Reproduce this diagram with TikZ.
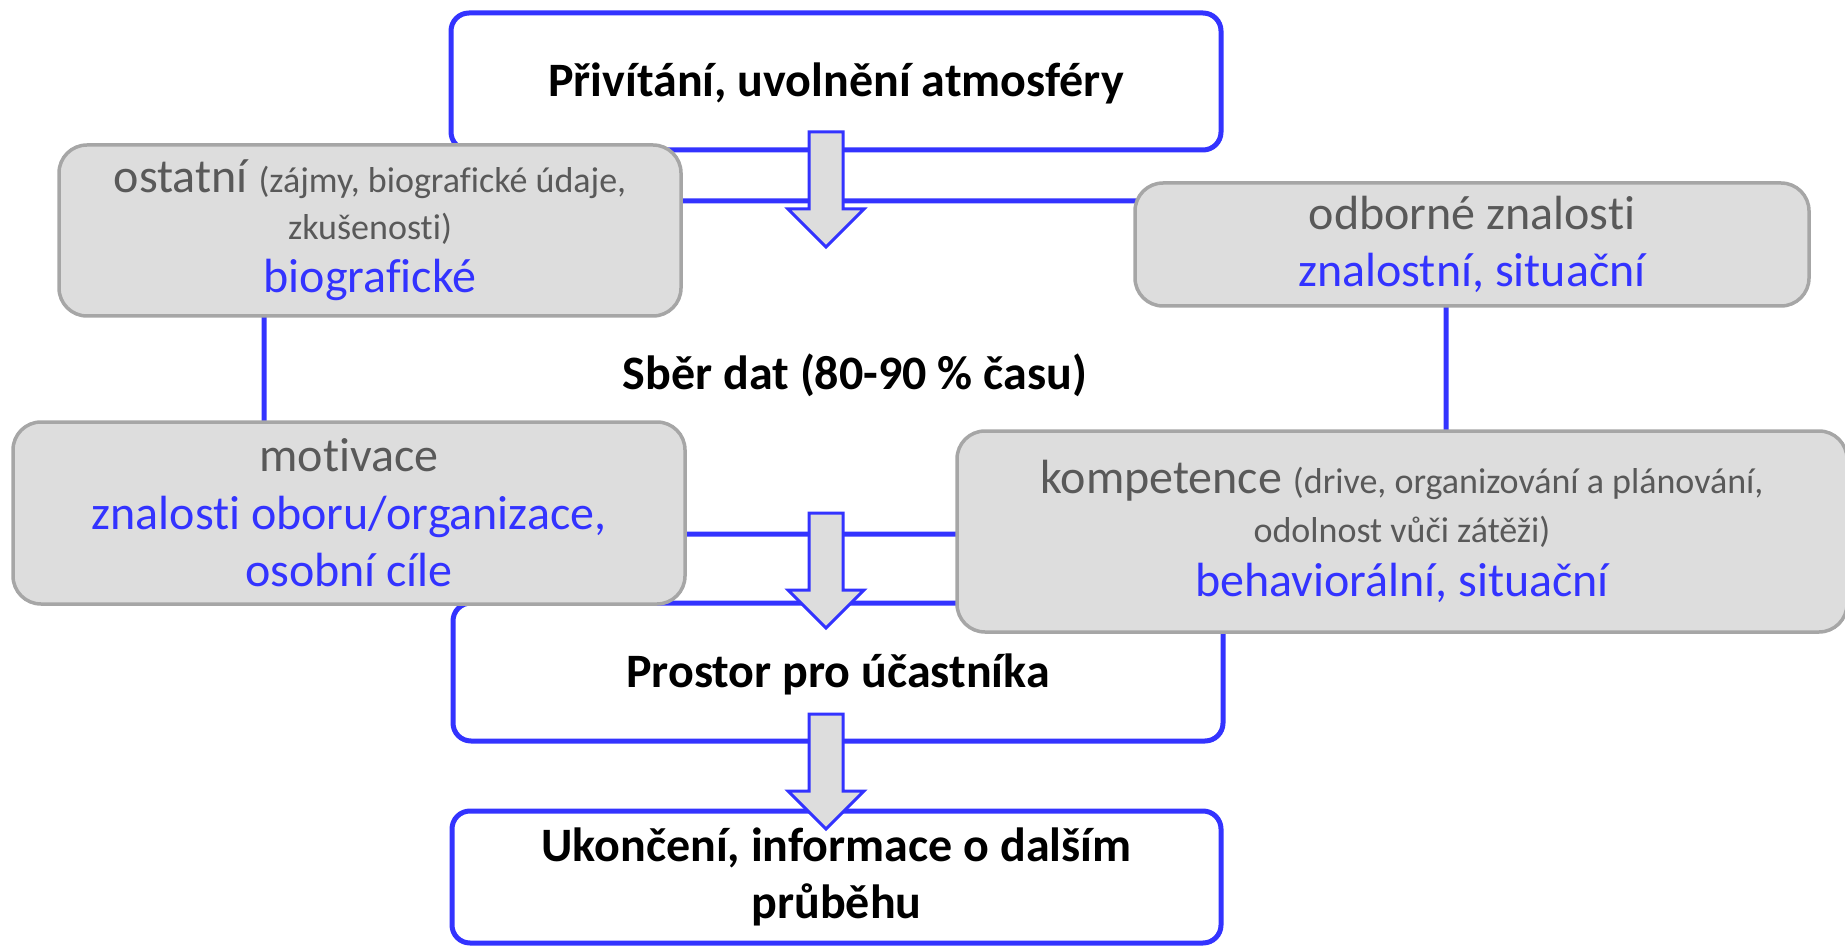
\documentclass[tikz,border=0pt]{standalone}
\usepackage{fontspec}
\setmainfont{Carlito}[Ligatures={TeX,CommonOff}, Contextuals={AlternateOff}]
\usepackage{xcolor}
\definecolor{lineblue}{RGB}{51,51,255}
\definecolor{boxfill}{RGB}{221,221,221}
\definecolor{boxline}{RGB}{166,166,166}
\definecolor{textgray}{RGB}{89,89,89}
\newcommand{\smalltxt}[1]{{\fontsize{18}{21.6}\selectfont #1}}
\newcommand{\bluetxt}[1]{\textcolor{lineblue}{#1}}
\newcommand{\downblock}[1]{\draw[blockarrow] (#1) ++(-17,0) -- ++(34,0) -- ++(0,77) -- ++(21,0) -- ++(-38,38) -- ++(-38,-38) -- ++(21,0) -- cycle;}
\tikzset{
flowbox/.style={draw=lineblue, line width=2.5pt, fill=white, rounded corners=9pt, inner sep=0pt, align=center, font=\bfseries\fontsize{24}{28.8}\selectfont},
infobox/.style={draw=boxline, line width=1.75pt, fill=boxfill, rounded corners=14pt, inner sep=0pt, align=center, text=textgray, font=\fontsize{24}{28.8}\selectfont},
blockarrow/.style={draw=lineblue, line width=1.5pt, fill=boxfill},
}

\begin{document}
\begin{tikzpicture}[x=0.5pt, y=-0.5pt]
            \useasboundingbox (0,0) rectangle (1845,946);
            \node[flowbox, minimum width=591pt, minimum height=166.5pt, text height=21.5pt, text depth=0pt] (sber) at (855,367.5) {Sběr dat (80-90 \% času)};
            \node[flowbox, minimum width=385pt, minimum height=68.5pt, text height=17pt, text depth=1.5pt] (welcome) at (836,81.5) {Přivítání, uvolnění atmosféry};
            \node[flowbox, minimum width=385pt, minimum height=69pt, text height=16.5pt, text depth=1.5pt] (prostor) at (838,672) {Prostor pro účastníka};
            \node[flowbox, minimum width=384.5pt, minimum height=66pt] (ending) at (836.5,877) {Ukončení, informace o dalším\\ průběhu};
            \node[infobox, minimum width=311pt, minimum height=85.5pt] (ostatni) at (370,230.5)
                {ostatní \smalltxt{(zájmy, biografické údaje,}\\[-5.3pt] \smalltxt{zkušenosti)}\\[-2.3pt] \bluetxt{biografické}};
            \node[infobox, minimum width=337pt, minimum height=61.5pt] (odborne) at (1472,244.5)
                {odborné znalosti\\ \bluetxt{znalostní, situační}};
            \node[infobox, minimum width=336pt, minimum height=91pt] (motivace) at (349,513)
                {motivace\\ \bluetxt{znalosti oboru/organizace,}\\ \bluetxt{osobní cíle}};
            \node[infobox, minimum width=445pt, minimum height=100.5pt] (kompetence) at (1402,531.5)
                {kompetence \smalltxt{(drive, organizování a plánování,}\\[-4.3pt] \smalltxt{odolnost vůči zátěži)}\\[-1.8pt] \bluetxt{behaviorální, situační}};
            \coordinate (arrowA) at (826,132);
            \coordinate (arrowB) at (826,513);
            \coordinate (arrowC) at (826,714);
            \downblock{arrowA}
            \downblock{arrowB}
            \downblock{arrowC}
        \end{tikzpicture}
\end{document}
